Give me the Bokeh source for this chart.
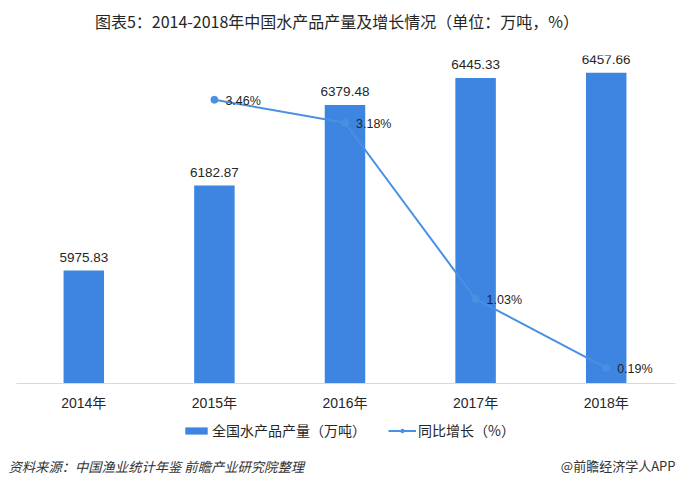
from bokeh.plotting import figure
from bokeh.layouts import column
from bokeh.models import (ColumnDataSource, Range1d, LabelSet, Label,
                          Legend, LegendItem, FixedTicker)
from bokeh.core.properties import value
from bokeh.embed import file_html
from bokeh.resources import INLINE

# ---- data ----
years = ["2014年", "2015年", "2016年", "2017年", "2018年"]
output = [5975.83, 6182.87, 6379.48, 6445.33, 6457.66]
growth_years = ["2015年", "2016年", "2017年", "2018年"]
growth = [3.46, 3.18, 1.03, 0.19]

title_text = "图表5：2014-2018年中国水产品产量及增长情况（单位：万吨，%）"
bar_name = "全国水产品产量（万吨）"
line_name = "同比增长（%）"
source_text = "资料来源：中国渔业统计年鉴 前瞻产业研究院整理"
brand_text = "@前瞻经济学人APP"

BAR = "#3D85E0"
LINE = "#4A90E2"
TXT = "#262626"
FONT = "Liberation Sans, Noto Sans CJK SC"
CJK = "Noto Sans CJK SC"


def strip(h):
    s = figure(width=680, height=h, x_range=Range1d(0, 680), y_range=Range1d(h, 0),
               output_backend="svg", toolbar_location=None, x_axis_location=None,
               y_axis_location=None, min_border=0)
    s.outline_line_color = None
    s.xgrid.visible = False
    s.ygrid.visible = False
    return s


# header strip: title
hdr = strip(44)
hdr.add_layout(Label(x=336.5, y=20, text=title_text, text_align="center",
                     text_baseline="middle", text_font=CJK,
                     text_font_size="16px", text_color=TXT))

xi = list(range(len(years)))
gi = [years.index(y) for y in growth_years]
bar_src = ColumnDataSource(dict(x=xi, y=output, lab=[f"{v:.2f}" for v in output]))
line_src = ColumnDataSource(dict(x=gi, y=growth, lab=[f"{v:.2f}%" for v in growth]))

band = 653 / len(years)
p = figure(width=680, height=369,
           x_range=Range1d(-0.5 - 18 / band, len(years) - 0.5 + 9 / band),
           y_range=Range1d(5700, 6500), output_backend="svg",
           toolbar_location=None, title=None, y_axis_location=None,
           min_border_left=0, min_border_right=0, min_border_top=11,
           min_border_bottom=28)
p.extra_y_ranges = {"pct": Range1d(0, 4)}
p.outline_line_color = None
p.xgrid.visible = False
p.ygrid.visible = False

p.vbar(x="x", top="y", bottom=5700, width=0.31, source=bar_src,
       fill_color=BAR, line_color=None)
p.line(x="x", y="y", source=line_src, y_range_name="pct",
       line_color=LINE, line_width=2)
p.scatter(x="x", y="y", source=line_src, y_range_name="pct", size=7,
          fill_color=LINE, line_color=LINE)

p.add_layout(LabelSet(x="x", y="y", text="lab", source=bar_src, y_offset=13,
                      text_align="center", text_baseline="middle",
                      text_font=value(FONT), text_font_size="13.5px",
                      text_color=TXT))
p.add_layout(LabelSet(x="x", y="y", text="lab", source=line_src, y_range_name="pct",
                      x_offset=11, y_offset=-1, text_align="left",
                      text_baseline="middle", text_font=value(FONT),
                      text_font_size="12.5px", text_color=TXT))

ax = p.xaxis[0]
ax.ticker = FixedTicker(ticks=xi)
ax.major_label_overrides = {i: y for i, y in zip(xi, years)}
ax.bounds = (-0.5 - 2 / band, len(years) - 0.5 + 4 / band)
ax.axis_line_color = "#D9D9D9"
ax.axis_line_width = 1
ax.major_tick_line_color = None
ax.minor_tick_line_color = None
ax.major_tick_out = 0
ax.major_tick_in = 0
ax.major_label_standoff = 11
ax.major_label_text_font = FONT
ax.major_label_text_font_size = "14px"
ax.major_label_text_color = TXT

# footer strip: legend + source + brand
f = strip(75)

# off-canvas proxies so the legend can draw its swatches
proxy = ColumnDataSource(dict(x=[-1000, -999], y=[-1000, -999]))
lb = f.vbar(x="x", top="y", width=1, source=proxy, fill_color=BAR, line_color=None)
ll = f.line(x="x", y="y", source=proxy, line_color=LINE, line_width=2)
lp = f.scatter(x="x", y="y", source=proxy, size=5, fill_color=LINE, line_color=LINE)

legend = Legend(items=[LegendItem(label=bar_name, renderers=[lb]),
                       LegendItem(label=line_name, renderers=[ll, lp])],
                location=(182, 48), orientation="horizontal",
                glyph_width=28, glyph_height=9, label_standoff=2, spacing=22,
                padding=0, margin=0, border_line_color=None,
                background_fill_alpha=0, label_text_font=CJK,
                label_text_font_size="14px", label_text_color=TXT)
f.add_layout(legend, "center")

f.add_layout(Label(x=8, y=53, text=source_text, text_align="left",
                   text_baseline="middle", text_font=CJK, text_font_style="italic",
                   text_font_size="13.3px", text_color="#333333"))
f.add_layout(Label(x=675, y=52, text=brand_text, text_align="right",
                   text_baseline="middle", text_font=CJK,
                   text_font_size="13px", text_color="#333333"))

layout = column(hdr, p, f, spacing=0)
open("out.html", "w").write(file_html(layout, INLINE))
